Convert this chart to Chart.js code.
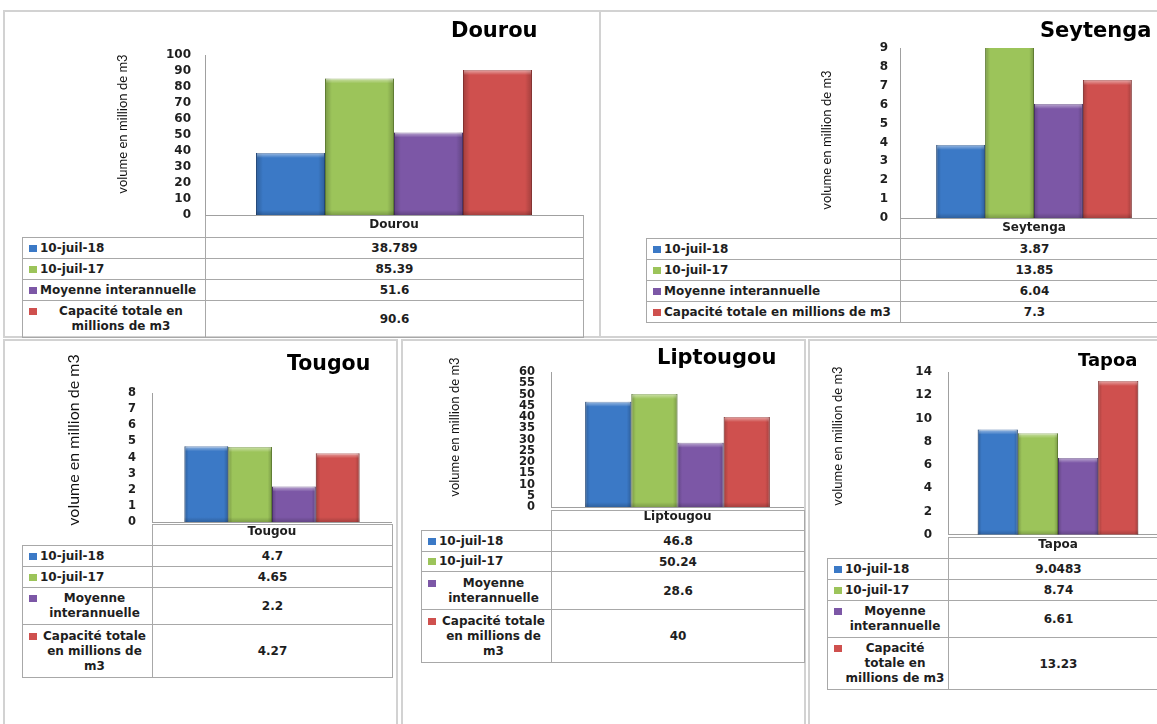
<!DOCTYPE html>
<html><head><meta charset="utf-8">
<script src="https://cdn.jsdelivr.net/npm/chart.js@4.4.1/dist/chart.umd.min.js"></script>
<style>
html,body{margin:0;padding:0;background:#fff;overflow:hidden;}
#page{position:relative;width:1157px;height:724px;overflow:hidden;background:#fff;}
.panel{position:absolute;border:2px solid #d2d2d2;box-sizing:border-box;}
canvas{position:absolute;}
table.dt{position:absolute;border-collapse:collapse;font:bold 12px "DejaVu Sans",sans-serif;color:#1e1e1e;table-layout:fixed;}
table.dt td{border:1px solid #a8a8a8;padding:0 3px 0 6px;vertical-align:middle;}
table.dt td.v{text-align:center;padding:0;}
table.dt td.e{border:none;}
.lab{display:flex;align-items:flex-start;line-height:15px;}
.mk{display:block;width:8px;height:7px;margin:4px 3px 0 0;flex:none;}
.lab span{flex:1;text-align:left;}
.lab.wrap span{text-align:center;}
</style></head><body><div id="page"></div>
<script>
// ---- data ----
const categories = ['Dourou', 'Seytenga', 'Tougou', 'Liptougou', 'Tapoa'];
const seriesNames = ['10-juil-18', '10-juil-17', 'Moyenne interannuelle', 'Capacité totale en millions de m3'];
const juil18   = [38.789, 3.87, 4.7, 46.8, 9.0483];
const juil17   = [85.39, 13.85, 4.65, 50.24, 8.74];
const moyenne  = [51.6, 6.04, 2.2, 28.6, 6.61];
const capacite = [90.6, 7.3, 4.27, 40, 13.23];
const yMax  = [100, 9, 8, 60, 14];
const yStep = [10, 1, 1, 5, 2];
const yAxisTitle = 'volume en million de m3';

// ---- styles / layout ----
const seriesValues = [juil18, juil17, moyenne, capacite];
const fills   = ['#3b79c6', '#9cc45a', '#7c57a6', '#cf504e'];
const borders = ['#2a5a98', '#779c40', '#5b3e80', '#a33b39'];

const L = [
 {pl:3,   pt:10,  pw:598, ph:328, ax:205, yTop:55,  y0:215, xr:583,  hh:22, rows:[21,21,21,37], tl:22,  tx:451,  ty:32,  ts:21,   yx:123, yy:124, ys:13, tick:12,   pad:14},
 {pl:599, pt:10,  pw:600, ph:328, ax:900, yTop:48,  y0:218, xr:1168, hh:20, rows:[21,21,21,21], tl:646, tx:1040, ty:32,  ts:21,   yx:827, yy:140, ys:13, tick:12,   pad:12},
 {pl:3,   pt:339, pw:395, ph:400, ax:152, yTop:393, y0:524, xr:392,  hh:21, rows:[21,21,37,53], tl:22,  tx:287,  ty:365, ts:20.5, yx:74,  yy:440, ys:16, tick:11.5, pad:16},
 {pl:401, pt:339, pw:405, ph:400, ax:551, yTop:372, y0:510, xr:804,  hh:20, rows:[21,20,38,53], tl:421, tx:657,  ty:359, ts:21,   yx:455, yy:427, ys:13, tick:11.5, pad:16},
 {pl:808, pt:339, pw:400, ph:400, ax:948, yTop:372, y0:537, xr:1168, hh:21, rows:[21,21,37,52], tl:827, tx:1078, ty:361, ts:18,   yx:838, yy:436, ys:13, tick:12,   pad:16}
];

const page = document.getElementById('page');

const bevel = {
  id: 'bevel',
  afterDatasetsDraw(chart) {
    const {ctx, chartArea: a} = chart;
    ctx.save();
    ctx.beginPath(); ctx.rect(a.left, a.top, a.right - a.left, a.bottom - a.top); ctx.clip();
    chart.data.datasets.forEach((ds, i) => {
      chart.getDatasetMeta(i).data.forEach(el => {
        const {x, y, base, width} = el.getProps(['x', 'y', 'base', 'width'], true);
        const l = x - width / 2;
        let g = ctx.createLinearGradient(l, 0, l + width, 0);
        g.addColorStop(0, 'rgba(0,0,0,0.22)');
        g.addColorStop(0.1, 'rgba(0,0,0,0)');
        g.addColorStop(0.9, 'rgba(0,0,0,0)');
        g.addColorStop(1, 'rgba(0,0,0,0.22)');
        ctx.fillStyle = g; ctx.fillRect(l, y, width, base - y);
        g = ctx.createLinearGradient(0, y, 0, y + 5);
        g.addColorStop(0, 'rgba(255,255,255,0.5)');
        g.addColorStop(1, 'rgba(255,255,255,0)');
        ctx.fillStyle = g; ctx.fillRect(l + 1, y, width - 2, 5);
        g = ctx.createLinearGradient(0, base - 5, 0, base);
        g.addColorStop(0, 'rgba(0,0,0,0)');
        g.addColorStop(1, 'rgba(0,0,0,0.2)');
        ctx.fillStyle = g; ctx.fillRect(l, base - 5, width, 5);
      });
    });
    ctx.restore();
  }
};

const texts = {
  id: 'texts',
  afterDraw(chart, args, o) {
    const ctx = chart.ctx;
    ctx.save();
    ctx.fillStyle = '#000';
    ctx.font = 'bold ' + o.titleSize + 'px "DejaVu Sans"';
    ctx.textBaseline = 'middle'; ctx.textAlign = 'left';
    ctx.fillText(o.title, o.tx, o.ty);
    ctx.translate(o.yx, o.yy); ctx.rotate(-Math.PI / 2);
    ctx.font = o.ySize + 'px Lato';
    ctx.textAlign = 'center';
    ctx.fillStyle = '#111';
    ctx.fillText(o.yTitle, 0, 0);
    ctx.restore();
  }
};

categories.forEach((cat, i) => {
  const p = L[i];
  // panel frame
  const pn = document.createElement('div');
  pn.className = 'panel';
  Object.assign(pn.style, {left: p.pl + 'px', top: p.pt + 'px', width: p.pw + 'px', height: p.ph + 'px'});
  page.appendChild(pn);

  // data table
  const t = document.createElement('table');
  t.className = 'dt';
  const W = p.xr - p.tl, lw = p.ax - p.tl;
  Object.assign(t.style, {left: p.tl + 'px', top: p.y0 + 'px', width: W + 'px'});
  let h = '<colgroup><col style="width:' + lw + 'px"><col style="width:' + (W - lw) + 'px"></colgroup>';
  h += '<tr style="height:' + p.hh + 'px"><td class="e"></td><td class="v"></td></tr>';
  seriesNames.forEach((n, k) => {
    h += '<tr style="height:' + p.rows[k] + 'px"><td><div class="lab"><i class="mk" style="background:' + fills[k] +
         '"></i><span>' + n + '</span></div></td><td class="v">' + String(seriesValues[k][i]) + '</td></tr>';
  });
  t.innerHTML = h;
  page.appendChild(t);
  t.querySelectorAll('.lab').forEach(d => { if (d.querySelector('span').offsetHeight > 18) d.classList.add('wrap'); });

  // chart canvas
  const cl = p.pl + 2, ct = p.pt + 2;
  const cw = p.xr - cl, ch = p.y0 + p.hh - ct;
  const cv = document.createElement('canvas');
  cv.width = cw; cv.height = ch;
  Object.assign(cv.style, {left: cl + 'px', top: ct + 'px', width: cw + 'px', height: ch + 'px'});
  page.appendChild(cv);

  new Chart(cv, {
    type: 'bar',
    data: {
      labels: [cat],
      datasets: seriesNames.map((n, k) => ({
        label: n,
        data: [seriesValues[k][i]],
        backgroundColor: fills[k],
        borderColor: borders[k],
        borderWidth: 1,
        categoryPercentage: 0.73,
        barPercentage: 1
      }))
    },
    options: {
      responsive: false,
      animation: false,
      layout: {padding: {top: p.yTop - ct, left: 0, right: 0, bottom: 0}},
      plugins: {
        legend: {display: false},
        tooltip: {enabled: false},
        title: {display: false},
        texts: {title: cat, titleSize: p.ts, tx: p.tx - cl, ty: p.ty - ct,
                yTitle: yAxisTitle, ySize: p.ys, yx: p.yx - cl, yy: p.yy - ct}
      },
      scales: {
        x: {
          grid: {display: false, drawTicks: false},
          border: {display: true, color: '#a0a0a0', width: 1},
          ticks: {autoSkip: false, padding: 3, color: '#1e1e1e',
                  font: {family: '"DejaVu Sans"', weight: 'bold', size: 12}},
          afterFit: s => { s.height = p.hh; }
        },
        y: {
          min: 0, max: yMax[i],
          grid: {display: false, drawTicks: false},
          border: {display: true, color: '#a0a0a0', width: 1},
          ticks: {stepSize: yStep[i], autoSkip: false, padding: p.pad, color: '#1e1e1e',
                  font: {family: '"DejaVu Sans"', weight: 'bold', size: p.tick}},
          afterFit: s => { s.width = p.ax - cl; }
        }
      }
    },
    plugins: [bevel, texts]
  });
});
</script>
</body></html>
